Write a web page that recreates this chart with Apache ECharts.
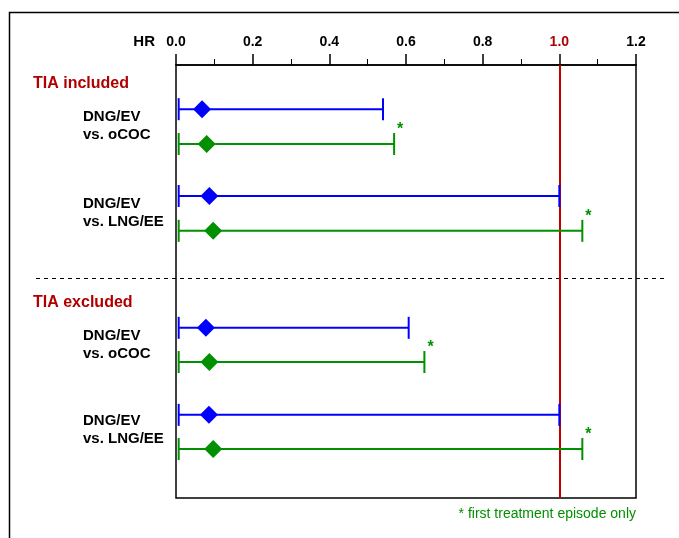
<!DOCTYPE html>
<html>
<head>
<meta charset="utf-8">
<script src="https://cdn.jsdelivr.net/npm/echarts@6/dist/echarts.min.js"></script>
<style>
html,body{margin:0;padding:0;background:#fff;}
#chart{width:679px;height:538px;}
</style>
</head>
<body>
<div id="chart"></div>
<script>
// ---- data ----
const groups = ['TIA included', 'TIA excluded'];
const comparisons = ['DNG/EV\nvs. oCOC', 'DNG/EV\nvs. LNG/EE', 'DNG/EV\nvs. oCOC', 'DNG/EV\nvs. LNG/EE'];
const xTicks = [0.0, 0.2, 0.4, 0.6, 0.8, 1.0, 1.2];
// blue: all episodes
const blueHR    = [0.068, 0.087, 0.078, 0.086];
const blueLower = [0.007, 0.007, 0.007, 0.007];
const blueUpper = [0.540, 1.000, 0.607, 1.000];
// green: first treatment episode only
const greenHR    = [0.080, 0.097, 0.087, 0.097];
const greenLower = [0.007, 0.007, 0.007, 0.007];
const greenUpper = [0.569, 1.060, 0.648, 1.060];
const footnote = '* first treatment episode only';

// ---- layout (row positions on a 0-100 vertical scale) ----
const blueRowPos  = [10.2, 30.25, 60.7, 80.8];
const greenRowPos = [18.25, 38.3, 68.6, 88.7];

const BLUE = '#0000ff', GREEN = '#009000', RED = '#c00000', DARKRED = '#b00000';
const FAM = '"Liberation Sans", Arial, sans-serif';

function build(hr, lo, up, pos, star) {
  return hr.map((v, i) => [v, lo[i], up[i], pos[i], star ? 1 : 0]);
}

function renderItem(color) {
  return function (params, api) {
    const y = api.value(3);
    const pLo = api.coord([api.value(1), y]);
    const pHi = api.coord([api.value(2), y]);
    const pC = api.coord([api.value(0), y]);
    const cap = 11, d = 9;
    const children = [
      { type: 'line', shape: { x1: pLo[0], y1: pLo[1], x2: pHi[0], y2: pHi[1] }, style: { stroke: color, lineWidth: 2 } },
      { type: 'line', shape: { x1: pLo[0], y1: pLo[1] - cap, x2: pLo[0], y2: pLo[1] + cap }, style: { stroke: color, lineWidth: 2 } },
      { type: 'line', shape: { x1: pHi[0], y1: pHi[1] - cap, x2: pHi[0], y2: pHi[1] + cap }, style: { stroke: color, lineWidth: 2 } },
      { type: 'polygon', shape: { points: [[pC[0], pC[1] - d], [pC[0] + d, pC[1]], [pC[0], pC[1] + d], [pC[0] - d, pC[1]]] }, style: { fill: color } }
    ];
    if (api.value(4)) {
      children.push({ type: 'text', x: pHi[0] + 3, y: pHi[1] - cap - 3, style: { text: '*', fill: color, font: 'bold 16px ' + FAM, textAlign: 'left', textVerticalAlign: 'middle' } });
    }
    return { type: 'group', children: children };
  };
}

const chart = echarts.init(document.getElementById('chart'));

const textFont = 'bold 15px ' + FAM;
const labelRows = [[117, 135], [204, 222], [336, 354], [421, 439]];
const graphics = [
  // outer frame
  { type: 'polyline', shape: { points: [[9.5, 538], [9.5, 12.5], [679, 12.5]] }, style: { stroke: '#000', lineWidth: 1.5, fill: null }, silent: true },
  // dashed separator
  { type: 'line', shape: { x1: 36, y1: 278.5, x2: 668, y2: 278.5 }, style: { stroke: '#000', lineWidth: 1, lineDash: [4, 4] }, silent: true },
  { type: 'text', x: 155, y: 42, style: { text: 'HR', font: 'bold 15px ' + FAM, fill: '#000', textAlign: 'right', textVerticalAlign: 'middle' } },
  { type: 'text', x: 33, y: 84, style: { text: groups[0], font: 'bold 16px ' + FAM, fill: DARKRED, textAlign: 'left', textVerticalAlign: 'middle' } },
  { type: 'text', x: 33, y: 303, style: { text: groups[1], font: 'bold 16px ' + FAM, fill: DARKRED, textAlign: 'left', textVerticalAlign: 'middle' } },
  { type: 'text', x: 636, y: 514, style: { text: footnote, font: '14px ' + FAM, fill: GREEN, textAlign: 'right', textVerticalAlign: 'middle' } }
];
comparisons.forEach((c, i) => {
  const lines = c.split('\n');
  lines.forEach((t, j) => {
    graphics.push({ type: 'text', x: 83, y: labelRows[i][j], style: { text: t, font: textFont, fill: '#000', textAlign: 'left', textVerticalAlign: 'middle' } });
  });
});

chart.setOption({
  animation: false,
  backgroundColor: '#fff',
  grid: { left: 176, right: 43, top: 65, bottom: 40, show: true, borderColor: '#000', borderWidth: 1.5, backgroundColor: 'transparent' },
  xAxis: {
    type: 'value', position: 'top', min: 0, max: 1.2, interval: 0.2,
    axisLine: { show: true, lineStyle: { color: '#000', width: 1.5 } },
    axisTick: { show: true, length: 11, lineStyle: { color: '#000', width: 1.5 } },
    minorTick: { show: true, splitNumber: 2, length: 6, lineStyle: { color: '#000', width: 1 } },
    splitLine: { show: false },
    axisLabel: {
      margin: 16,
      formatter: function (v) {
        const s = v.toFixed(1);
        return Math.abs(v - 1) < 1e-9 ? '{r|' + s + '}' : '{k|' + s + '}';
      },
      rich: {
        r: { color: DARKRED, fontWeight: 'bold', fontSize: 14, fontFamily: FAM },
        k: { color: '#000', fontWeight: 'bold', fontSize: 14, fontFamily: FAM }
      }
    }
  },
  yAxis: { type: 'value', min: 0, max: 100, inverse: true, show: false },
  series: [
    {
      type: 'custom', name: 'all', renderItem: renderItem(BLUE), z: 3,
      encode: { x: [0, 1, 2], y: 3 },
      data: build(blueHR, blueLower, blueUpper, blueRowPos, false),
      markLine: { silent: true, symbol: 'none', z: 1, label: { show: false }, lineStyle: { color: RED, width: 2, type: 'solid' }, data: [{ xAxis: 1 }] }
    },
    {
      type: 'custom', name: 'first', renderItem: renderItem(GREEN), z: 3,
      encode: { x: [0, 1, 2], y: 3 },
      data: build(greenHR, greenLower, greenUpper, greenRowPos, true)
    }
  ],
  graphic: graphics
});
</script>
</body>
</html>
